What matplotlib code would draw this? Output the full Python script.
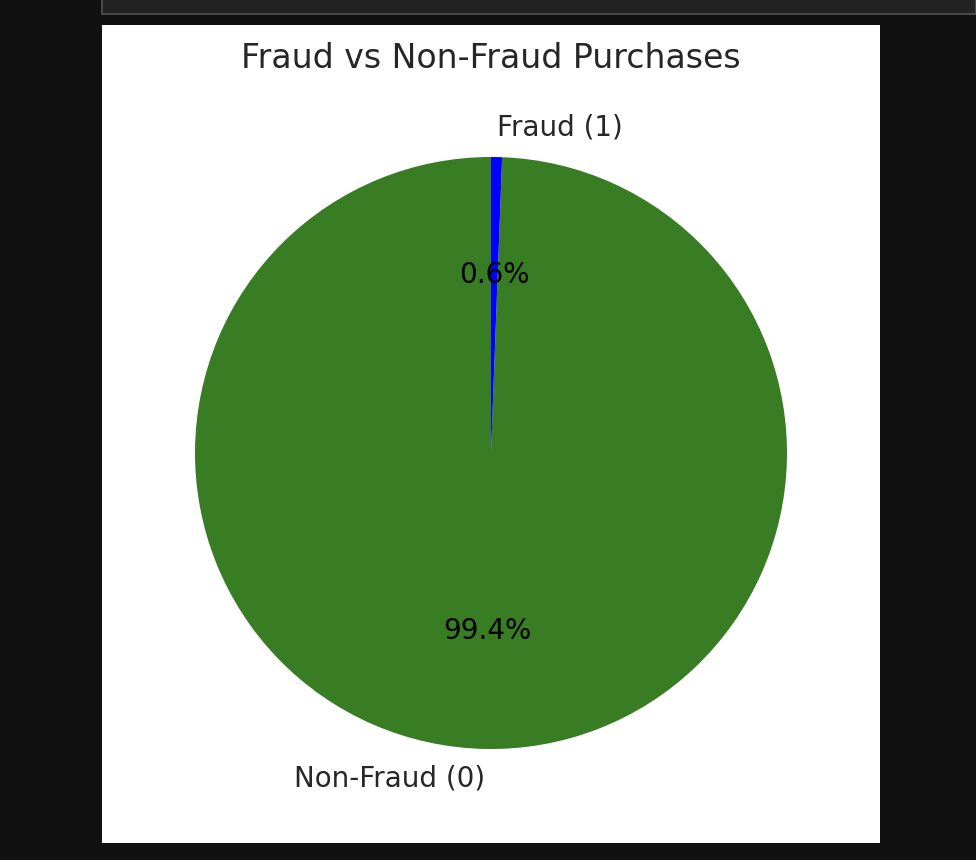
import matplotlib
matplotlib.use('Agg')
from matplotlib import pyplot as plt
from matplotlib.patches import Rectangle

labels = ['Non-Fraud (0)', 'Fraud (1)']
shares = [99.4, 0.6]
colors = ['#387c23', '#0000ff']
title = 'Fraud vs Non-Fraud Purchases'

W, H = 976, 860
fig = plt.figure(figsize=(W / 100, H / 100), dpi=100, facecolor='#111111')

def px(x0, y0, x1, y1):
   # pixel box (top-left origin) -> figure fraction
   return x0 / W, 1 - y1 / H, (x1 - x0) / W, (y1 - y0) / H

# notebook chrome: top bar and white figure panel
x, y, w, h = px(102, -2, 976, 14)
fig.patches.append(Rectangle((x, y), w, h, transform=fig.transFigure,
   facecolor='#222222', edgecolor='#555555', linewidth=1.2, zorder=-2))
x, y, w, h = px(102, 25, 880, 843)
fig.patches.append(Rectangle((x, y), w, h, transform=fig.transFigure,
   facecolor='white', edgecolor='none', zorder=-2))

cx, cy, r = 491, 453, 296
lim = 1.2
ax = fig.add_axes(px(cx - lim * r, cy - lim * r, cx + lim * r, cy + lim * r))
ax.set_zorder(1)
ax.patch.set_visible(False)
ax.pie(shares, labels=labels, colors=colors, autopct='%1.1f%%', startangle=90,
   textprops={'fontsize': 20, 'color': '#262626'})
for t in ax.texts:
   if t.get_text().endswith('%'):
      t.set_color('black')
ax.set_xlim(-lim, lim)
ax.set_ylim(-lim, lim)
ax.set_aspect('equal')
ax.axis('off')

fig.text(cx / W, 1 - 58 / H, title, ha='center', va='center', fontsize=23.9, color='#262626')

fig.savefig('out.png', dpi=100, facecolor=fig.get_facecolor())
